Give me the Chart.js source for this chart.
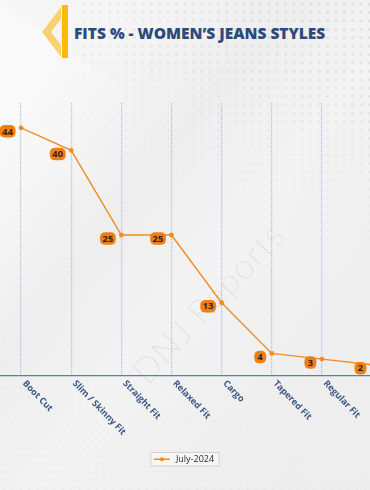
<!DOCTYPE html>
<html><head><meta charset="utf-8">
<script src="https://cdn.jsdelivr.net/npm/chart.js@4.4.1/dist/chart.umd.min.js"></script>
<style>
html,body{margin:0;padding:0;width:370px;height:490px;overflow:hidden;}
body{position:relative;font-family:"Open Sans",sans-serif;
 background:linear-gradient(128deg,#f7f7f7 0%,#f4f4f4 22%,#eeeeee 38%,#f3f3f3 55%,#efefef 75%,#ededed 100%);}
.band{position:absolute;left:-60px;top:-40px;width:260px;height:620px;transform:rotate(35deg);transform-origin:top left;
 background:linear-gradient(90deg,rgba(255,255,255,0) 0%,rgba(255,255,255,0.45) 50%,rgba(255,255,255,0) 100%);}
.dots{position:absolute;left:80px;top:0;width:290px;height:260px;
 background-image:radial-gradient(circle,rgba(0,0,0,0.075) 1.1px,transparent 1.6px);background-size:8.4px 8.4px;
 -webkit-mask-image:linear-gradient(200deg,rgba(0,0,0,1) 10%,rgba(0,0,0,0) 75%);mask-image:linear-gradient(200deg,rgba(0,0,0,1) 10%,rgba(0,0,0,0) 75%);}
.dots2{position:absolute;left:0;top:300px;width:370px;height:190px;
 background-image:radial-gradient(circle,rgba(0,0,0,0.045) 0.8px,transparent 1.3px);background-size:8.4px 8.4px;
 -webkit-mask-image:linear-gradient(20deg,rgba(0,0,0,1) 10%,rgba(0,0,0,0) 70%);mask-image:linear-gradient(20deg,rgba(0,0,0,1) 10%,rgba(0,0,0,0) 70%);}
.wm{position:absolute;left:207px;top:302px;transform:translate(-50%,-50%) rotate(-47deg);white-space:nowrap;
 font-family:Lato,sans-serif;font-weight:300;font-size:35px;color:rgba(0,0,0,0.065);letter-spacing:1px;}
.title{position:absolute;left:74px;top:22px;font-family:"Open Sans",sans-serif;font-weight:800;font-size:15.5px;color:#2c4a7b;white-space:nowrap;letter-spacing:0px;}
svg.icon{position:absolute;left:0;top:0;}
canvas{position:absolute;left:0;top:0;}
</style></head>
<body>
<div class="band"></div>
<div class="dots"></div>
<div class="dots2"></div>
<div class="wm">DNJ Reports</div>
<svg class="icon" width="80" height="64">
 <polygon points="61,7 61,19 51,32 61,45 61,57 42,32" fill="#f8d271"/>
 <rect x="62" y="5" width="6" height="53" fill="#ffb908"/>
</svg>
<div class="title">FITS % - WOMEN’S JEANS STYLES</div>
<canvas id="c" width="370" height="490"></canvas>
<script>
const categories = ['Boot Cut','Slim / Skinny Fit','Straight Fit','Relaxed Fit','Cargo','Tapered Fit','Regular Fit','Mom Fit'];
const fitValues = [44, 40, 25, 25, 13, 4, 3, 2];
const seriesLabel = 'July-2024';
const yMin = 0;
const yMax = 48.4;

const lineColor = '#f58a22';
const boxColor = '#f27d12';

function roundRect(ctx,x,y,w,h,r){
  ctx.beginPath();
  ctx.moveTo(x+r,y);ctx.lineTo(x+w-r,y);ctx.quadraticCurveTo(x+w,y,x+w,y+r);
  ctx.lineTo(x+w,y+h-r);ctx.quadraticCurveTo(x+w,y+h,x+w-r,y+h);
  ctx.lineTo(x+r,y+h);ctx.quadraticCurveTo(x,y+h,x,y+h-r);
  ctx.lineTo(x,y+r);ctx.quadraticCurveTo(x,y,x+r,y);ctx.closePath();
}

const overlay = {
  id:'overlay',
  afterDatasetsDraw(chart){
    const ctx = chart.ctx;
    const meta = chart.getDatasetMeta(0);
    ctx.save();
    ctx.font = 'bold 9.5px "Open Sans", sans-serif';
    ctx.textAlign = 'center';
    ctx.textBaseline = 'middle';
    meta.data.forEach((pt,i)=>{
      const txt = String(fitValues[i]);
      const tw = ctx.measureText(txt).width;
      const w = Math.max(12, tw + 5);
      const h = 12.5;
      const right = pt.x - 5.5;
      const cy = pt.y + 3.5;
      ctx.fillStyle = boxColor;
      roundRect(ctx, right - w, cy - h/2, w, h, 5.5);
      ctx.fill();
      ctx.fillStyle = '#2a2420';
      ctx.fillText(txt, right - w/2, cy + 0.5);
    });
    ctx.restore();
  },
  afterDraw(chart){
    const ctx = chart.ctx;
    const xs = chart.scales.x;
    ctx.save();
    ctx.font = 'bold 9px "Open Sans", sans-serif';
    ctx.fillStyle = '#3b5584';
    ctx.textAlign = 'left';
    ctx.textBaseline = 'middle';
    categories.forEach((c,i)=>{
      const x = xs.getPixelForValue(i);
      ctx.save();
      ctx.translate(x + 3, xs.top + 6);
      ctx.rotate(46*Math.PI/180);
      ctx.fillText(c, 0, 0);
      ctx.restore();
    });
    // legend
    ctx.font = '9px "Open Sans", sans-serif';
    const label = chart.data.datasets[0].label;
    const tw = ctx.measureText(label).width;
    const bw = 3 + 16 + 6 + tw + 5;
    const bx = chart.width/2 - bw/2;
    const by = 452.5, bh = 13.5;
    ctx.fillStyle = 'rgba(250,250,250,0.7)';
    ctx.fillRect(bx, by, bw, bh);
    ctx.strokeStyle = '#d2d2d2';
    ctx.lineWidth = 1;
    ctx.strokeRect(bx, by, bw, bh);
    const ly = by + bh/2;
    ctx.strokeStyle = lineColor; ctx.lineWidth = 1.5;
    ctx.beginPath(); ctx.moveTo(bx+3, ly); ctx.lineTo(bx+19, ly); ctx.stroke();
    ctx.fillStyle = lineColor;
    ctx.beginPath(); ctx.arc(bx+11, ly, 2, 0, Math.PI*2); ctx.fill();
    ctx.fillStyle = '#2b2b2b';
    ctx.fillText(label, bx + 25, ly + 0.5);
    ctx.restore();
  }
};

new Chart(document.getElementById('c'), {
  type:'line',
  data:{
    datasets:[{
      label: seriesLabel,
      data: fitValues.map((v,i)=>({x:i, y:v})),
      borderColor: lineColor,
      backgroundColor: lineColor,
      borderWidth: 1.4,
      pointRadius: 2.4,
      pointBorderWidth: 0,
      pointBackgroundColor: lineColor,
      tension: 0,
      clip: false
    }]
  },
  options:{
    responsive:false,
    animation:false,
    devicePixelRatio:1,
    layout:{autoPadding:false, padding:{top:103,bottom:114,left:0,right:0}},
    scales:{
      x:{
        type:'linear', min:-0.42, max:6.96, position:'bottom',
        ticks:{display:false, stepSize:1, includeBounds:false},
        grid:{color:'rgba(120,150,200,0.6)', lineWidth:1.2, drawTicks:false},
        border:{display:true, color:'#5f7ba6', width:1.2, dash:[1,1]}
      },
      y:{display:false, min:yMin, max:yMax}
    },
    plugins:{legend:{display:false}, tooltip:{enabled:false}}
  },
  plugins:[overlay]
});
</script>
</body></html>
